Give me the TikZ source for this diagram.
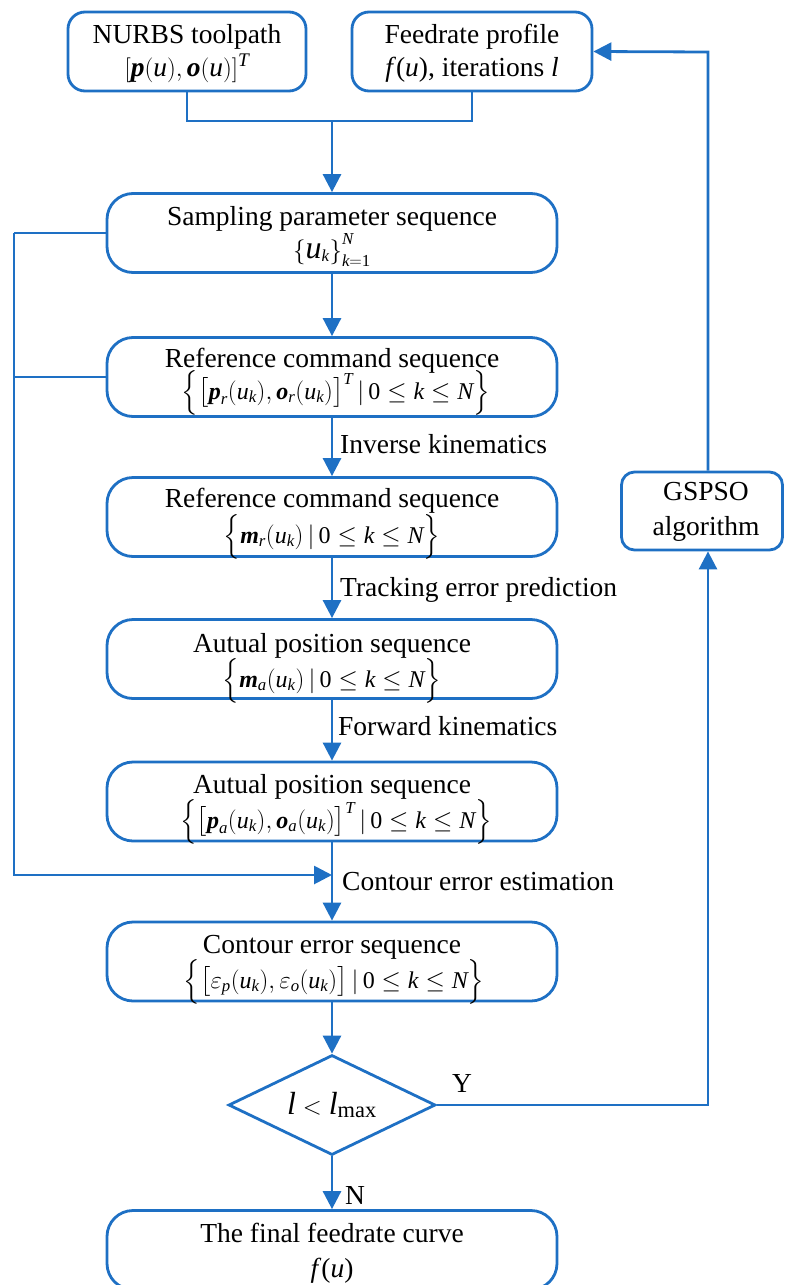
\documentclass[tikz,border=0pt]{standalone}
\usepackage{fontspec}
\setmainfont{Liberation Serif}
\usepackage{amsmath}
\usetikzlibrary{shapes.geometric,arrows.meta}
\definecolor{fblue}{RGB}{30,112,196}
\newcommand{\Mi}[1]{\textit{#1}}
\newcommand{\Mr}[1]{\textup{#1}}
\newcommand{\Mbi}[1]{\textbf{\textit{#1}}}
\newcommand{\Dl}[2]{\mathopen{\hbox{$\nulldelimiterspace=0pt\left#1\vcenter to #2{}\right.$}}}
\newcommand{\Dr}[2]{\mathclose{\hbox{$\nulldelimiterspace=0pt\left.\vcenter to #2{}\right#1$}}}
\begin{document}
\begin{tikzpicture}[x=1pt,y=-1pt,
  every node/.style={font=\fontsize{27.5}{35}\selectfont},
  base/.style={draw=fblue, line width=2.8pt, inner sep=0pt, fill=white},
  bigbox/.style={base, rounded corners=26pt, minimum width=450pt, minimum height=79pt},
  topbox/.style={base, rounded corners=17pt, minimum height=79pt},
  dia/.style={base, shape=diamond, shape aspect=2.07, minimum width=207pt, minimum height=100pt},
  txt/.style={inner sep=0pt, anchor=base},
  mth/.style={inner sep=0pt, anchor=base, font=\fontsize{24}{28}\selectfont},
  conn/.style={draw=fblue, line width=2.8pt},
  arr/.style={conn, -{Triangle[length=18pt,width=18pt]}},
  lab/.style={anchor=west, inner sep=0pt}
]
\path[use as bounding box] (0,0) rectangle (785,1285);
\clip (0,0) rectangle (785,1285);

% boxes
\node[topbox, minimum width=238pt] (top1) at (187,51.5) {};
\node[topbox, minimum width=240pt] (top2) at (472,51.5) {};
\node[bigbox] (samp) at (332,233) {};
\node[bigbox] (ref1) at (332,377) {};
\node[bigbox] (ref2) at (332,517) {};
\node[bigbox] (act1) at (332,659) {};
\node[bigbox] (act2) at (332,801.5) {};
\node[bigbox] (cont) at (332,961.5) {};
\node[dia] (dec) at (332,1105) {};
\node[bigbox] (final) at (332,1250) {};
\node[topbox, rounded corners=13pt, minimum width=161pt, minimum height=78pt] (gspso) at (702,511) {};

% texts
\node[txt] (top1a) at (187,43) {NURBS toolpath};
\node[txt] (top1b) at (187,76) {$[\Mbi{p}(\Mi{u}),\Mbi{o}(\Mi{u})]^{\Mi{T}}$};
\node[txt] (top2a) at (472,43) {Feedrate profile};
\node[txt] (top2b) at (472,76) {\Mi{f}(\Mi{u}), iterations \Mi{l}};
\node[txt] (sampa) at (332,225) {Sampling parameter sequence};
\node[mth] (sampb) at (332,258) {$\Dl\{{27pt}\text{\fontsize{32}{32}\selectfont\itshape u}_{\Mi{k}}\Dr\}{27pt}_{\Mi{k}=\Mr{1}}^{\Mi{N}}$};
\node[txt] (ref1a) at (332,367) {Reference command sequence};
\node[mth] (ref1b) at (336,399) {$\Dl\{{44pt}\Dl[{30pt}\Mbi{p}_{\Mi{r}}(\Mi{u}_{\Mi{k}}),\Mbi{o}_{\Mi{r}}(\Mi{u}_{\Mi{k}})\Dr]{30pt}^{\Mi{T}}\,|\,\Mr{0}\le \Mi{k}\le \Mi{N}\Dr\}{44pt}$};
\node[txt] (ref2a) at (332,507) {Reference command sequence};
\node[mth] (ref2b) at (332,543) {$\Dl\{{44pt}\Mbi{m}_{\Mi{r}}(\Mi{u}_{\Mi{k}})\,|\,\Mr{0}\le \Mi{k}\le \Mi{N}\Dr\}{44pt}$};
\node[txt] (act1a) at (332,652) {Autual position sequence};
\node[mth] (act1b) at (332,687) {$\Dl\{{44pt}\Mbi{m}_{\Mi{a}}(\Mi{u}_{\Mi{k}})\,|\,\Mr{0}\le \Mi{k}\le \Mi{N}\Dr\}{44pt}$};
\node[txt] (act2a) at (332,793) {Autual position sequence};
\node[mth] (act2b) at (336,828) {$\Dl\{{44pt}\Dl[{30pt}\Mbi{p}_{\Mi{a}}(\Mi{u}_{\Mi{k}}),\Mbi{o}_{\Mi{a}}(\Mi{u}_{\Mi{k}})\Dr]{30pt}^{\Mi{T}}\,|\,\Mr{0}\le \Mi{k}\le \Mi{N}\Dr\}{44pt}$};
\node[txt] (conta) at (332,953) {Contour error sequence};
\node[mth] (contb) at (334,988) {$\Dl\{{44pt}\Dl[{30pt}\varepsilon_{\Mi{p}}(\Mi{u}_{\Mi{k}}),\varepsilon_{\Mi{o}}(\Mi{u}_{\Mi{k}})\Dr]{30pt}\,|\,\Mr{0}\le \Mi{k}\le \Mi{N}\Dr\}{44pt}$};
\node[inner sep=0pt, font=\fontsize{32}{36}\selectfont] (deca) at (332,1105) {$\Mi{l}<\Mi{l}_{\Mr{max}}$};
\node[txt] (finala) at (332,1242) {The final feedrate curve};
\node[txt] (finalb) at (332,1277) {\Mi{f}(\Mi{u})};
\node[txt] (gspsoa) at (706,500) {GSPSO};
\node[txt] (gspsob) at (706,535) {algorithm};

% connectors
\coordinate (j) at (332,121);
\draw[conn] (top1.south) |- (j) -| (top2.south);
\draw[arr] (j) -- (samp.north);
\draw[arr] (samp.south) -- (ref1.north);
\draw[arr] (ref1.south) -- (ref2.north);
\draw[arr] (ref2.south) -- (act1.north);
\draw[arr] (act1.south) -- (act2.north);
\draw[arr] (act2.south) -- (cont.north);
\draw[arr] (cont.south) -- (dec.north);
\draw[arr] (dec.south) -- (final.north);

\coordinate (l1) at (14,233);
\coordinate (fb) at (332,875);
\draw[conn] (samp.west) -- (l1);
\draw[conn] (ref1.west) -- (ref1.west -| l1);
\draw[arr] (l1) |- (fb);

\coordinate (yr) at (708,1105);
\draw[arr] (dec.east) -- (yr) -- ([xshift=6pt]gspso.south);
\coordinate (gt) at (708,52);
\draw[arr] ([xshift=6pt]gspso.north) -- (gt) -- (top2.east);

% labels
\node[lab] (l_ik) at (340,444) {Inverse kinematics};
\node[lab] (l_te) at (340,590) {Tracking error prediction};
\node[lab] (l_fk) at (338,726) {Forward kinematics};
\node[lab] (l_ce) at (342,882) {Contour error estimation};
\node[lab] (l_y) at (452,1083) {Y};
\node[lab] (l_n) at (345,1195) {N};
\end{tikzpicture}
\end{document}
